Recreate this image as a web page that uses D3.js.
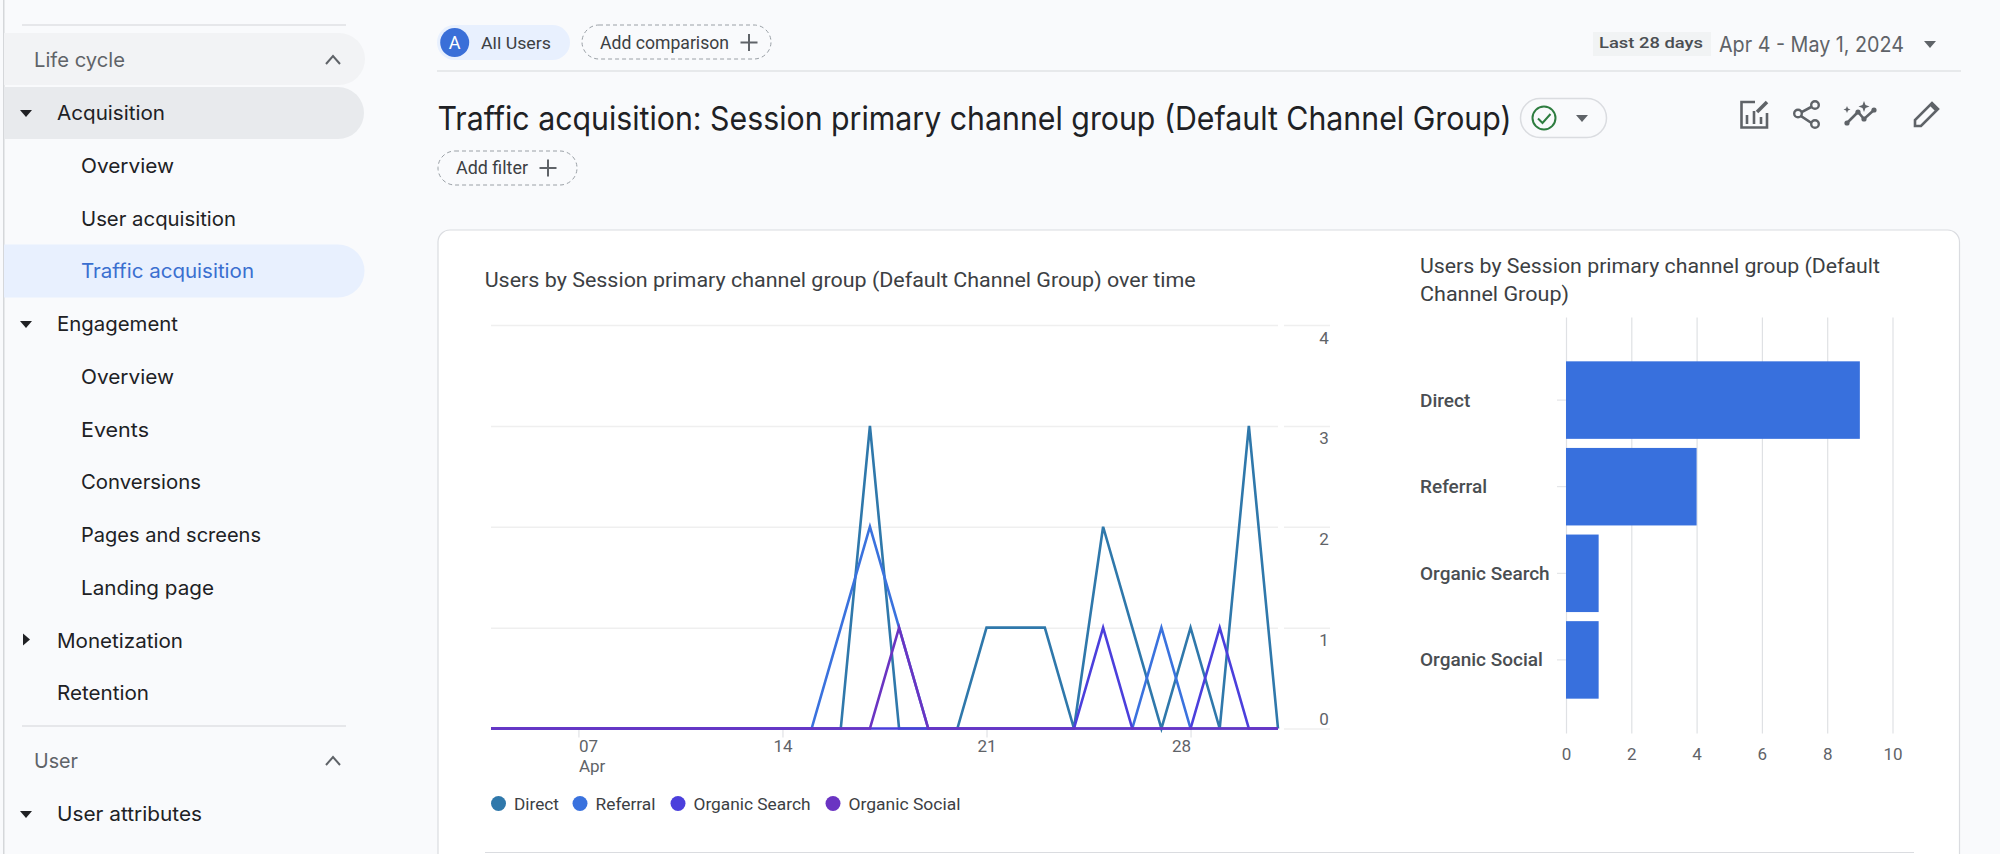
<!DOCTYPE html>
<html>
<head>
<meta charset="utf-8">
<title>Traffic acquisition</title>
<script src="https://cdn.jsdelivr.net/npm/d3@7"></script>
<style>
  html, body { margin: 0; padding: 0; background: #f9fafc; }
  svg { display: block; }
  .grid .domain, .rightAxis .domain, .xAxis .domain, .barAxis .domain, .catAxis .domain { display: none; }
</style>
</head>
<body>
<div id="chart"></div>
<script>
// values
const days = ['2024-04-04','2024-04-05','2024-04-06','2024-04-07','2024-04-08','2024-04-09','2024-04-10',
  '2024-04-11','2024-04-12','2024-04-13','2024-04-14','2024-04-15','2024-04-16','2024-04-17',
  '2024-04-18','2024-04-19','2024-04-20','2024-04-21','2024-04-22','2024-04-23','2024-04-24',
  '2024-04-25','2024-04-26','2024-04-27','2024-04-28','2024-04-29','2024-04-30','2024-05-01'];
const direct        = [0,0,0,0,0,0,0,0,0,0,0,0,0,3,0,0,0,1,1,1,0,2,1,0,1,0,3,0];
const referral      = [0,0,0,0,0,0,0,0,0,0,0,0,1,2,1,0,0,0,0,0,0,0,0,1,0,0,0,0];
const organicSearch = [0,0,0,0,0,0,0,0,0,0,0,0,0,0,0,0,0,0,0,0,0,1,0,0,0,1,0,0];
const organicSocial = [0,0,0,0,0,0,0,0,0,0,0,0,0,0,1,0,0,0,0,0,0,0,0,0,0,0,0,0];
const channels = ['Direct', 'Referral', 'Organic Search', 'Organic Social'];
const channelUsers = [9, 4, 1, 1];
const lineYTicks = [0, 1, 2, 3, 4];
const barXTicks = [0, 2, 4, 6, 8, 10];
const dateTicks = ['2024-04-07', '2024-04-14', '2024-04-21', '2024-04-28'];
const navItems = ['Acquisition', 'Overview', 'User acquisition', 'Traffic acquisition', 'Engagement', 'Overview',
  'Events', 'Conversions', 'Pages and screens', 'Landing page', 'Monetization', 'Retention'];

const seriesColors = ['#2f78ab', '#3a72de', '#4b3fdc', '#6a34c2'];
const barColor = '#3870dd';
const pageBg = '#f9fafc';
const sans = 'Inter, Roboto, sans-serif';
const roboto = 'Roboto, sans-serif';
const parseDay = d3.timeParse('%Y-%m-%d');

const svg = d3.select('#chart').append('svg')
  .attr('width', 2000).attr('height', 854)
  .attr('viewBox', '0 0 2000 854')
  .attr('font-family', roboto);

// small helper, all page text goes through here. width pins the text run to the measured length
function label(txt, x, y, size, color, width, family, weight) {
  const t = svg.append('text')
    .attr('x', x).attr('y', y)
    .attr('font-size', size)
    .attr('fill', color)
    .attr('font-family', family || roboto)
    .attr('font-weight', weight || 400)
    .attr('dominant-baseline', 'central')
    .text(txt);
  if (width) t.attr('textLength', width).attr('lengthAdjust', 'spacingAndGlyphs');
  return t;
}

function caret(x, y, right, color) {
  const p = right ? `M${x - 3},${y - 6}L${x + 4},${y}L${x - 3},${y + 6}Z` : `M${x - 6},${y - 3}L${x + 6},${y - 3}L${x},${y + 4}Z`;
  svg.append('path').attr('d', p).attr('fill', color || '#202124');
}

function chevron(x, y) {
  svg.append('path').attr('d', `M${x - 7},${y + 4}L${x},${y - 4}L${x + 7},${y + 4}`)
    .attr('fill', 'none').attr('stroke', '#5f6368').attr('stroke-width', 2);
}

function plus(x, y, r) {
  svg.append('path').attr('d', `M${x - r},${y}H${x + r}M${x},${y - r}V${y + r}`)
    .attr('stroke', '#5f6368').attr('stroke-width', 2);
}

// ---------- sidebar ----------
svg.append('rect').attr('x', 3).attr('y', 0).attr('width', 1.5).attr('height', 854).attr('fill', '#d5d7da');
[25, 726].forEach(y => {
  svg.append('line').attr('x1', 22).attr('x2', 346).attr('y1', y).attr('y2', y)
    .attr('stroke', '#dfe1e4').attr('stroke-width', 1.5);
});
svg.append('path').attr('d', 'M4,33H339a26,26 0 0 1 0,52H4Z').attr('fill', '#f2f3f5');
svg.append('path').attr('d', 'M4,87H338a26,26 0 0 1 0,52H4Z').attr('fill', '#e8eaed');
svg.append('path').attr('d', 'M4,244.5H338a26.5,26.5 0 0 1 0,53H4Z').attr('fill', '#e8f0fe');

label('Life cycle', 34, 60, 20, '#5f6368', 91, sans);
label('User', 34, 760.5, 20, '#5f6368', 44, sans);
chevron(333, 60);
chevron(333, 761);

const navWidths = [108, 93, 155, 173, 121, 93, 68, 120, 180, 133, 126, 92];
const navIndent = [57, 81, 81, 81, 57, 81, 81, 81, 81, 81, 57, 57];
navItems.forEach((d, i) => {
  label(d, navIndent[i], 113 + i * 52.75, 20, i === 3 ? '#3a6fd0' : '#202124', navWidths[i], sans);
});
label('User attributes', 57, 814, 20, '#202124', 145, sans);
caret(26, 113);
caret(26, 324);
caret(26, 639.5, true);
caret(26, 814);

// ---------- header ----------
svg.append('rect').attr('x', 437).attr('y', 25).attr('width', 133).attr('height', 35).attr('rx', 17.5).attr('fill', '#e8f0fe');
svg.append('circle').attr('cx', 454.7).attr('cy', 42.5).attr('r', 14.5).attr('fill', '#3a6fd8');
label('A', 454.7, 42.5, 18, '#fff', null, roboto).attr('text-anchor', 'middle');
label('All Users', 481, 42.5, 17, '#3c4043', 70);

svg.append('rect').attr('x', 582).attr('y', 25).attr('width', 189).attr('height', 34).attr('rx', 17)
  .attr('fill', 'none').attr('stroke', '#9aa0a6').attr('stroke-dasharray', '4 3');
label('Add comparison', 600, 42.5, 17.5, '#3c4043', 129);
plus(749, 42.5, 8.5);

svg.append('rect').attr('x', 1593).attr('y', 32).attr('width', 118).attr('height', 24).attr('fill', '#f1f3f4');
label('Last 28 days', 1599, 43, 15, '#4a4e52', 104, roboto, 500);
label('Apr 4 - May 1, 2024', 1719, 44.5, 21, '#5f6368', 185, sans);
caret(1930, 44, false, '#5f6368');
svg.append('line').attr('x1', 437).attr('x2', 1961).attr('y1', 71).attr('y2', 71).attr('stroke', '#e1e3e6').attr('stroke-width', 1.5);

label('Traffic acquisition: Session primary channel group (Default Channel Group)', 437.5, 118, 33, '#202124', 1074, sans, 400);

svg.append('rect').attr('x', 1520.5).attr('y', 98.5).attr('width', 86).attr('height', 39).attr('rx', 19.5)
  .attr('fill', 'none').attr('stroke', '#dadce0').attr('stroke-width', 1.5);
svg.append('circle').attr('cx', 1544).attr('cy', 118).attr('r', 11.5).attr('fill', 'none').attr('stroke', '#2e7d40').attr('stroke-width', 2);
svg.append('path').attr('d', 'M1538,118.5l4.5,4.5l8,-9').attr('fill', 'none').attr('stroke', '#2e7d40').attr('stroke-width', 2);
caret(1582, 118, false, '#5f6368');

const iconStroke = { fill: 'none', stroke: '#5f6368', 'stroke-width': 2.6 };
function icon(d, attrs) {
  const p = svg.append('path').attr('d', d);
  Object.entries(attrs || iconStroke).forEach(([k, v]) => p.attr(k, v));
}
// customize report
icon('M1755,102H1741.5V127.5H1767V113');
icon('M1747,124V115M1754,124V111M1761,124V117');
icon('M1757,112L1767,102', { fill: 'none', stroke: '#5f6368', 'stroke-width': 3.6 });
// share
icon('M1813,106L1798,114L1813,124');
[[1815, 105], [1798, 113.5], [1815, 124]].forEach(c => {
  svg.append('circle').attr('cx', c[0]).attr('cy', c[1]).attr('r', 3.8).attr('fill', pageBg).attr('stroke', '#5f6368').attr('stroke-width', 2.4);
});
// insights
icon('M1847,123L1858,112L1864,119L1874,110');
[[1847, 123], [1858, 112], [1864, 119], [1874, 110]].forEach(c => {
  svg.append('circle').attr('cx', c[0]).attr('cy', c[1]).attr('r', 2.6).attr('fill', '#5f6368');
});
icon('M1864,101l1.5,4l4,1.5l-4,1.5l-1.5,4l-1.5,-4l-4,-1.5l4,-1.5ZM1847,106l1,2.5l2.5,1l-2.5,1l-1,2.5l-1,-2.5l-2.5,-1l2.5,-1Z', { fill: '#5f6368' });
// pencil
icon('M1915,126V120L1932,103L1938,109L1921,126Z');
icon('M1931,104L1937,110', { fill: 'none', stroke: '#5f6368', 'stroke-width': 4 });

svg.append('rect').attr('x', 438).attr('y', 151).attr('width', 139).attr('height', 34).attr('rx', 17)
  .attr('fill', 'none').attr('stroke', '#9aa0a6').attr('stroke-dasharray', '4 3');
label('Add filter', 456, 168, 17.5, '#3c4043', 72);
plus(548, 168, 8.5);

// ---------- card ----------
svg.append('rect').attr('x', 438).attr('y', 230).attr('width', 1521.5).attr('height', 660).attr('rx', 12)
  .attr('fill', '#fff').attr('stroke', '#dadce0').attr('stroke-width', 1.2);
svg.append('line').attr('x1', 485).attr('x2', 1914).attr('y1', 852.5).attr('y2', 852.5).attr('stroke', '#dadce0');

label('Users by Session primary channel group (Default Channel Group) over time', 484.7, 279.5, 20, '#3c4043', 711);

// ---------- line chart ----------
const xTime = d3.scaleTime()
  .domain([parseDay(days[0]), parseDay(days[days.length - 1])])
  .range([491, 1278]);
const yLine = d3.scaleLinear().domain([0, 4]).range([728.5, 325]);

svg.append('g').attr('class', 'grid')
  .attr('transform', `translate(${xTime.range()[1]},0)`)
  .call(d3.axisLeft(yLine).tickValues(lineYTicks).tickSize(xTime.range()[1] - xTime.range()[0]).tickFormat(''))
  .selectAll('line').attr('stroke', '#efefef').attr('stroke-width', 1.5);

const rightAxis = svg.append('g').attr('class', 'rightAxis')
  .attr('transform', `translate(${xTime.range()[1] + 6},0)`)
  .call(d3.axisRight(yLine).tickValues(lineYTicks).tickSize(46).tickFormat(d3.format('d')));
rightAxis.selectAll('line').attr('stroke', '#efefef').attr('stroke-width', 1.5);
rightAxis.selectAll('text')
  .attr('x', 40).attr('dy', null).attr('y', d => d === 0 ? -10 : 12)
  .attr('dominant-baseline', 'central')
  .attr('text-anchor', 'middle')
  .attr('font-family', roboto).attr('font-size', 17).attr('fill', '#5f6368');

const xAxis = svg.append('g').attr('class', 'xAxis')
  .attr('transform', `translate(0,${yLine(0)})`)
  .call(d3.axisBottom(xTime).tickValues(dateTicks.map(parseDay)).tickSize(9).tickFormat(d3.timeFormat('%d')));
xAxis.selectAll('line').attr('stroke', '#dadce0');
xAxis.selectAll('text')
  .attr('y', 17).attr('dy', null).attr('dominant-baseline', 'central')
  .attr('font-family', roboto).attr('font-size', 17).attr('fill', '#5f6368')
  .attr('text-anchor', (d, i) => i === 0 ? 'start' : i === dateTicks.length - 1 ? 'end' : 'middle');
// month goes on a second line under the first tick
xAxis.select('.tick').append('text')
  .attr('y', 37).attr('dominant-baseline', 'central')
  .attr('text-anchor', 'start')
  .attr('font-family', roboto).attr('font-size', 17).attr('fill', '#5f6368')
  .text(d3.timeFormat('%b')(parseDay(dateTicks[0])));

const line = d3.line()
  .x((d, i) => xTime(parseDay(days[i])))
  .y(d => yLine(d));

[direct, referral, organicSearch, organicSocial].forEach((values, i) => {
  svg.append('path')
    .datum(values)
    .attr('class', 'linePlots')
    .attr('d', line)
    .attr('fill', 'none')
    .attr('stroke', seriesColors[i])
    .attr('stroke-width', 2.6);
});

// legend
const legendX = [498.5, 580, 678, 833];
const legendW = [45, 60, 117, 112];
channels.forEach((c, i) => {
  svg.append('circle').attr('cx', legendX[i]).attr('cy', 803.5).attr('r', 7.5).attr('fill', seriesColors[i]);
  label(c, legendX[i] + 15.5, 803.5, 17, '#3c4043', legendW[i]);
});

// ---------- bar chart ----------
label('Users by Session primary channel group (Default', 1420, 265.5, 20, '#3c4043', 460);
label('Channel Group)', 1420, 293.5, 20, '#3c4043', 149);

const xBar = d3.scaleLinear().domain([0, 10]).range([1566, 1892.5]);
const yBar = d3.scaleBand().domain(channels).range([357, 703]).paddingInner(0.105).paddingOuter(0.05);

const barAxis = svg.append('g').attr('class', 'barAxis')
  .attr('transform', 'translate(0,733.5)')
  .call(d3.axisBottom(xBar).tickValues(barXTicks).tickSize(-416).tickPadding(12));
barAxis.selectAll('line').attr('stroke', '#dfe1e4').attr('stroke-width', 1.2);
barAxis.selectAll('text')
  .attr('y', 20.5).attr('dy', null).attr('dominant-baseline', 'central')
  .attr('font-family', roboto).attr('font-size', 17).attr('fill', '#5f6368');

const catAxis = svg.append('g').attr('class', 'catAxis')
  .attr('transform', `translate(${xBar(0)},0)`)
  .call(d3.axisLeft(yBar).tickSize(9));
catAxis.selectAll('line').attr('stroke', '#dfe1e4');
catAxis.selectAll('text')
  .attr('x', 1420 - xBar(0)).attr('dy', null).attr('dominant-baseline', 'central')
  .attr('text-anchor', 'start')
  .attr('font-family', roboto).attr('font-size', 19).attr('font-weight', 500).attr('fill', '#4a4e52');

svg.selectAll('.bar')
  .data(channels)
  .join('rect')
  .attr('class', 'bar')
  .attr('x', xBar(0))
  .attr('y', d => yBar(d))
  .attr('width', (d, i) => xBar(channelUsers[i]) - xBar(0))
  .attr('height', yBar.bandwidth())
  .attr('fill', barColor);
</script>
</body>
</html>
